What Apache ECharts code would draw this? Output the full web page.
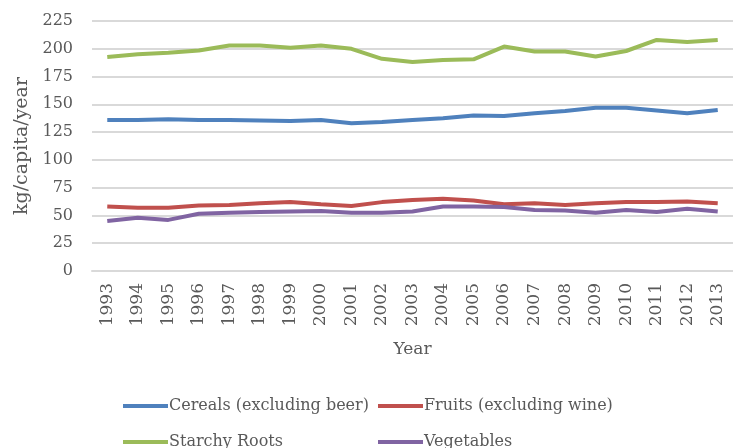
<!DOCTYPE html>
<html>
<head>
<meta charset="utf-8">
<script src="https://cdn.jsdelivr.net/npm/echarts@6/dist/echarts.min.js"></script>
<style>
  html, body { margin: 0; padding: 0; background: #fff; }
  #chart { width: 733px; height: 448px; }
</style>
</head>
<body>
<div id="chart"></div>
<script>
// 年份
const years = ['1993', '1994', '1995', '1996', '1997', '1998', '1999', '2000', '2001', '2002', '2003',
  '2004', '2005', '2006', '2007', '2008', '2009', '2010', '2011', '2012', '2013']

// 各类食物消费量 kg/capita/year
const cereals = [136, 136, 136.5, 136, 136, 135.5, 135, 136, 133, 134, 136, 137.5, 140, 139.5, 142, 144, 147, 147, 144.5, 142, 145]
const fruits = [58, 57, 57, 59, 59.5, 61, 62, 60, 58.5, 62, 64, 65, 63.5, 60, 61, 59.5, 61, 62, 62, 62.5, 61]
const starchyRoots = [192.5, 195, 196.5, 198.5, 203, 203, 201, 203, 200, 191, 188, 190, 190.5, 202, 197.5, 197.5, 193, 198, 208, 206, 208]
const vegetables = [45, 48, 46, 51.5, 52.5, 53, 53.5, 54, 52.5, 52.5, 53.5, 58, 58, 57.5, 55, 54.5, 52.5, 55, 53, 56, 53.5]

const textColor = '#595959'
const font = 'DejaVu Serif'

// 单项图例
function legendItem(name, left, top) {
  return {
    left: left,
    top: top,
    icon: 'rect',
    itemWidth: 45,
    itemHeight: 4,
    textStyle: { color: textColor, fontFamily: font, fontSize: 16, padding: [0, 0, 0, -4] },
    data: [name]
  }
}

const myEcharts = echarts.init(document.getElementById('chart'))

const option = {
  animation: false,
  color: ['#4F81BD', '#C0504D', '#9BBB59', '#8064A2'],
  grid: {
    left: 92,
    top: 21,
    bottom: 177,
    right: -8
  },
  legend: [
    legendItem('Cereals (excluding beer)', 118, 393),
    legendItem('Fruits (excluding wine)', 373, 393),
    legendItem('Starchy Roots', 118, 429),
    legendItem('Vegetables', 373, 429)
  ],
  xAxis: {
    type: 'category',
    data: years,
    boundaryGap: true,
    name: 'Year',
    nameLocation: 'middle',
    nameGap: 70,
    nameTextStyle: { color: textColor, fontFamily: font, fontSize: 17 },
    axisLine: { lineStyle: { color: '#d9d9d9', width: 2 } },
    axisTick: { show: false },
    axisLabel: {
      rotate: 90,
      margin: 12,
      color: textColor,
      fontFamily: font,
      fontSize: 17
    }
  },
  yAxis: {
    type: 'value',
    min: 0,
    max: 225,
    interval: 25,
    name: 'kg/capita/year',
    nameLocation: 'middle',
    nameGap: 58,
    nameTextStyle: { color: textColor, fontFamily: font, fontSize: 19 },
    axisLine: { show: false },
    axisTick: { show: false },
    axisLabel: {
      margin: 19,
      color: textColor,
      fontFamily: font,
      fontSize: 16
    },
    splitLine: { lineStyle: { color: '#d9d9d9', width: 2 } }
  },
  series: [
    {
      name: 'Cereals (excluding beer)',
      type: 'line',
      data: cereals,
      symbol: 'none',
      lineStyle: { width: 4 }
    },
    {
      name: 'Fruits (excluding wine)',
      type: 'line',
      data: fruits,
      symbol: 'none',
      lineStyle: { width: 4 }
    },
    {
      name: 'Starchy Roots',
      type: 'line',
      data: starchyRoots,
      symbol: 'none',
      lineStyle: { width: 4 }
    },
    {
      name: 'Vegetables',
      type: 'line',
      data: vegetables,
      symbol: 'none',
      lineStyle: { width: 4 }
    }
  ]
}

myEcharts.setOption(option)
</script>
</body>
</html>
